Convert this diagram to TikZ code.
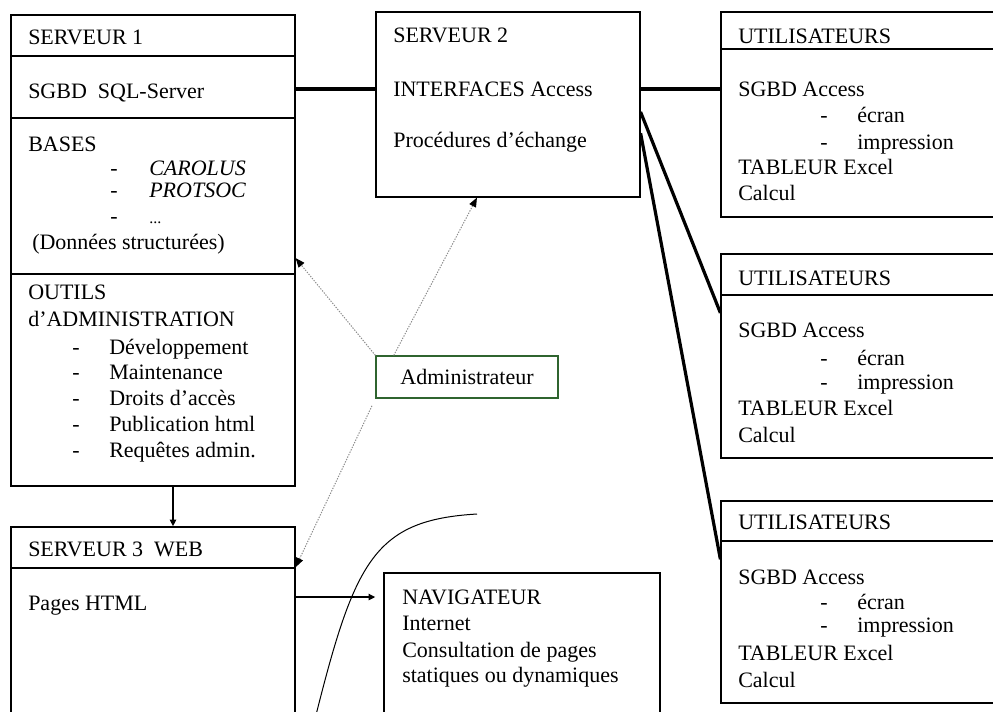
\documentclass[tikz,border=0pt]{standalone}
\usepackage{fontspec}
\setmainfont{Liberation Serif}
\usetikzlibrary{calc,arrows.meta}

\tikzset{
  box/.style={draw, line width=0.9pt, inner sep=0pt},
  txt/.style={anchor=west, inner sep=0pt, text height=12pt, text depth=1.5pt, font=\fontsize{16.5}{19}\selectfont},
  thick line/.style={line width=2.4pt},
  link/.style={line width=1.5pt, -{Triangle[length=5pt,width=4.5pt]}},
  admin line/.style={draw={rgb,255:red,140;green,140;blue,140}, line width=0.75pt, dash pattern=on 1pt off 1pt, -{Triangle[length=7pt,width=5.5pt,color=black]}}
}
\definecolor{admingreen}{RGB}{47,100,47}

\begin{document}
\begin{tikzpicture}[x=0.75pt,y=0.75pt,yscale=-1,xscale=1]
\useasboundingbox (0,0) rectangle (993,711);

%Shape: Rectangle [SERVEUR 1]
\node[box, minimum width=213pt, minimum height=353.25pt] (s1) at (153,250.5) {};
\draw[line width=0.9pt] (s1.west |- 0,56) -- (s1.east |- 0,56) ;
\draw[line width=0.9pt] (s1.west |- 0,118) -- (s1.east |- 0,118) ;
\draw[line width=0.9pt] (s1.west |- 0,274) -- (s1.east |- 0,274) ;
%Shape: Rectangle [SERVEUR 2]
\node[box, minimum width=198pt, minimum height=138.75pt] (s2) at (508,104.5) {};
%Shape: Rectangle [UTILISATEURS]
\node[box, minimum width=209.25pt, minimum height=153.75pt] (u1) at (860.5,114.5) {};
\draw[line width=0.9pt] (u1.west |- 0,49) -- (u1.east |- 0,49) ;
\node[box, minimum width=209.25pt, minimum height=153pt] (u2) at (860.5,356) {};
\draw[line width=0.9pt] (u2.west |- 0,295) -- (u2.east |- 0,295) ;
\node[box, minimum width=209.25pt, minimum height=151.5pt] (u3) at (860.5,602) {};
\draw[line width=0.9pt] (u3.west |- 0,541) -- (u3.east |- 0,541) ;
%Shape: Rectangle [SERVEUR 3]
\node[box, minimum width=213pt, minimum height=144.75pt] (s3) at (153,623.5) {};
\draw[line width=0.9pt] (s3.west |- 0,568) -- (s3.east |- 0,568) ;
%Shape: Rectangle [NAVIGATEUR]
\node[box, minimum width=207pt, minimum height=110.25pt] (nav) at (522,646.5) {};
%Shape: Rectangle [Administrateur]
\node[box, draw=admingreen, minimum width=136.5pt, minimum height=31.5pt, font=\fontsize{16.5}{19}\selectfont] (admin) at (467,377) {Administrateur};

% Text Node
\node[txt] (s1h) at (28,37) {SERVEUR 1};
% Text Node
\node[txt] (s1sgbd) at (28,91) {SGBD\ \ SQL-Server};
% Text Node
\node[txt] (s1bases) at (28,144) {BASES};
\node[txt] (s1d1) at (110,168) {-};
\node[txt] (s1b1) at (149,168) {\textit{CAROLUS}};
\node[txt] (s1d2) at (110,190) {-};
\node[txt] (s1b2) at (149,190) {\textit{PROTSOC}};
\node[txt] (s1d3) at (110,216) {-};
\node[txt] (s1b3) at (149,216) {\fontsize{12}{14}\selectfont ...};
% Text Node
\node[txt] (s1don) at (32,242) {(Données structurées)};
% Text Node
\node[txt] (s1out) at (28,292) {OUTILS};
\node[txt] (s1adm) at (28,319) {d’ADMINISTRATION};
\node[txt] (s1d4) at (72,347) {-};
\node[txt] (s1o1) at (109,347) {Développement};
\node[txt] (s1d5) at (72,372) {-};
\node[txt] (s1o2) at (109,372) {Maintenance};
\node[txt] (s1d6) at (72,398) {-};
\node[txt] (s1o3) at (109,398) {Droits d’accès};
\node[txt] (s1d7) at (72,424) {-};
\node[txt] (s1o4) at (109,424) {Publication html};
\node[txt] (s1d8) at (72,450) {-};
\node[txt] (s1o5) at (109,450) {Requêtes admin.};

% Text Node
\node[txt] (s2h) at (393,35) {SERVEUR 2};
\node[txt] (s2int) at (393,89) {INTERFACES Access};
\node[txt] (s2proc) at (393,140) {Procédures d’échange};

% Text Node
\node[txt] (u1h) at (738,36) {UTILISATEURS};
\node[txt] (u1a) at (738,89) {SGBD Access};
\node[txt] (u1d1) at (820,115) {-};
\node[txt] (u1e) at (857,115) {écran};
\node[txt] (u1d2) at (820,142) {-};
\node[txt] (u1i) at (857,142) {impression};
\node[txt] (u1t) at (738,167) {TABLEUR Excel};
\node[txt] (u1c) at (738,193) {Calcul};
% Text Node
\node[txt] (u2h) at (738,278) {UTILISATEURS};
\node[txt] (u2a) at (738,330) {SGBD Access};
\node[txt] (u2d1) at (820,358) {-};
\node[txt] (u2e) at (857,358) {écran};
\node[txt] (u2d2) at (820,382) {-};
\node[txt] (u2i) at (857,382) {impression};
\node[txt] (u2t) at (738,408) {TABLEUR Excel};
\node[txt] (u2c) at (738,435) {Calcul};
% Text Node
\node[txt] (u3h) at (738,522) {UTILISATEURS};
\node[txt] (u3a) at (738,577) {SGBD Access};
\node[txt] (u3d1) at (820,602) {-};
\node[txt] (u3e) at (857,602) {écran};
\node[txt] (u3d2) at (820,625) {-};
\node[txt] (u3i) at (857,625) {impression};
\node[txt] (u3t) at (738,653) {TABLEUR Excel};
\node[txt] (u3c) at (738,680) {Calcul};

% Text Node
\node[txt] (s3h) at (28,549) {SERVEUR 3\ \ WEB};
\node[txt] (s3p) at (28,603) {Pages HTML};
% Text Node
\node[txt] (navh) at (402,597) {NAVIGATEUR};
\node[txt] (navi) at (402,623) {Internet};
\node[txt] (navc) at (402,650) {Consultation de pages};
\node[txt] (navs) at (402,675) {statiques ou dynamiques};

%Straight Lines
\draw[thick line] (s1.east |- s2int) -- (s2.west |- s2int) ;
\draw[thick line] (s2.east |- s2int) -- (u1.west |- s2int) ;
\draw[thick line] ($(s2.north east)!0.54!(s2.south east)$) -- ($(u2.north west)!0.29!(u2.south west)$) ;
\draw[thick line] ($(s2.north east)!0.654!(s2.south east)$) -- ($(u3.north west)!0.29!(u3.south west)$) ;
%Straight Lines
\coordinate (c13) at (173,505);
\draw[link] (s1.south -| c13) -- (s3.north -| c13) ;
\draw[link, shorten >=6pt] (s3.east |- navh) -- (nav.west |- navh) ;
%Straight Lines
\draw[admin line] (admin.north west) -- ($(s1.north east)!0.516!(s1.south east)$) ;
\draw[admin line] ($(admin.north west)!0.1!(admin.north east)$) -- ($(s2.south west)!0.383!(s2.south east)$) ;
\draw[admin line, shorten <=6pt] (admin.south west) -- ($(s3.north east)!0.21!(s3.south east)$) ;
%Curve Lines
\draw[line width=0.75pt] (477,514) .. controls (375,520) and (355,560) .. (316,715) ;

\end{tikzpicture}
\end{document}
